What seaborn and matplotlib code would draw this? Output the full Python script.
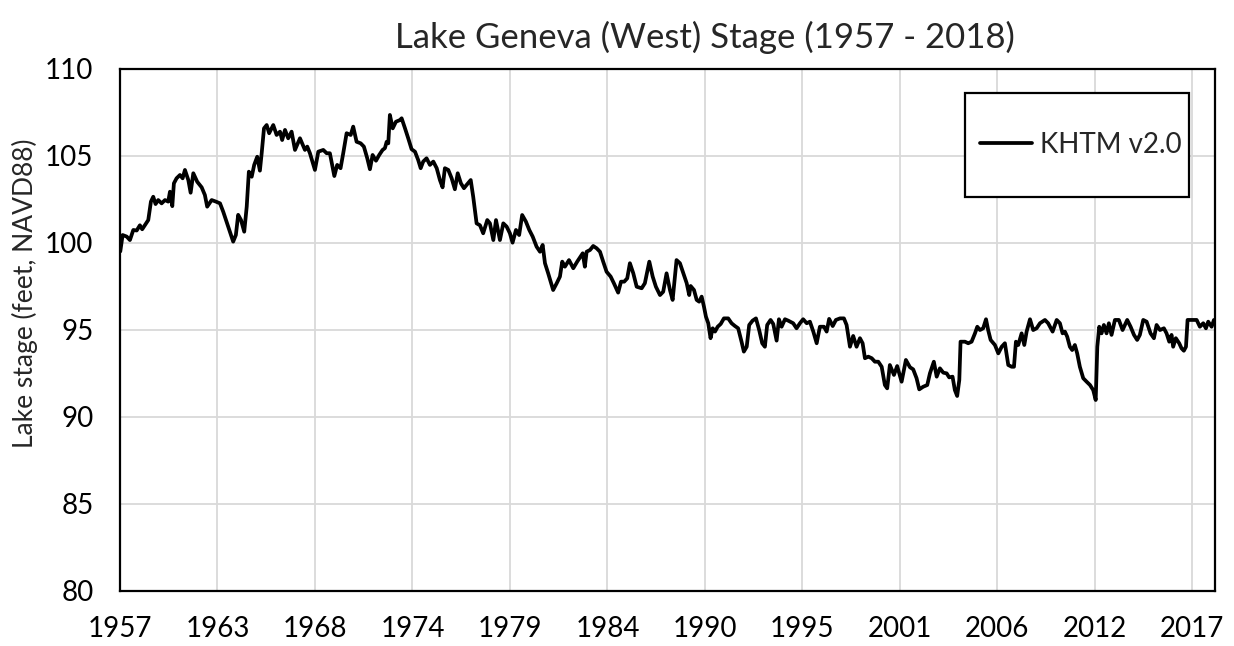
import matplotlib
matplotlib.use("Agg")
import matplotlib.pyplot as plt
import matplotlib.patches as patches
import seaborn as sns

# lake stage (decimal year, feet NAVD88)
year = [
    1957.62, 1957.75, 1957.98, 1958.16, 1958.35, 1958.54, 1958.72, 1958.85, 1959.00, 1959.19,
    1959.34, 1959.47, 1959.60, 1959.75, 1959.94, 1960.13, 1960.31, 1960.41, 1960.54, 1960.63,
    1960.78, 1960.97, 1961.12, 1961.25, 1961.44, 1961.57, 1961.72, 1961.94, 1962.19, 1962.37,
    1962.50, 1962.75, 1962.99, 1963.22, 1963.40, 1963.59, 1963.78, 1963.96, 1964.11, 1964.24,
    1964.40, 1964.58, 1964.72, 1964.84, 1965.00, 1965.14, 1965.31, 1965.46, 1965.56, 1965.69,
    1965.84, 1965.98, 1966.21, 1966.40, 1966.59, 1966.71, 1966.87, 1967.05, 1967.24, 1967.43,
    1967.71, 1967.99, 1968.12, 1968.27, 1968.55, 1968.74, 1969.02, 1969.21, 1969.39, 1969.64,
    1969.80, 1969.99, 1970.14, 1970.33, 1970.56, 1970.70, 1970.89, 1971.12, 1971.30, 1971.49,
    1971.64, 1971.79, 1971.98, 1972.16, 1972.35, 1972.48, 1972.58, 1972.67, 1972.76, 1972.92,
    1973.10, 1973.33, 1973.42, 1973.61, 1973.79, 1973.98, 1974.17, 1974.35, 1974.49, 1974.63,
    1974.82, 1975.01, 1975.20, 1975.39, 1975.57, 1975.72, 1975.85, 1976.04, 1976.23, 1976.41,
    1976.57, 1976.75, 1976.92, 1977.07, 1977.30, 1977.44, 1977.63, 1977.82, 1978.00, 1978.23,
    1978.38, 1978.57, 1978.72, 1978.94, 1979.13, 1979.32, 1979.50, 1979.65, 1979.84, 1980.02,
    1980.19, 1980.40, 1980.59, 1980.78, 1981.00, 1981.19, 1981.34, 1981.47, 1981.65, 1981.93,
    1982.13, 1982.31, 1982.44, 1982.59, 1982.82, 1983.06, 1983.28, 1983.47, 1983.59, 1983.71,
    1983.81, 1984.00, 1984.18, 1984.37, 1984.56, 1984.74, 1984.93, 1985.16, 1985.34, 1985.58,
    1985.74, 1985.92, 1986.09, 1986.24, 1986.43, 1986.62, 1986.90, 1987.08, 1987.33, 1987.52,
    1987.70, 1987.93, 1988.11, 1988.30, 1988.49, 1988.64, 1988.86, 1989.05, 1989.24, 1989.43,
    1989.57, 1989.65, 1989.84, 1989.99, 1990.13, 1990.27, 1990.40, 1990.51, 1990.64, 1990.77,
    1990.89, 1991.02, 1991.17, 1991.34, 1991.52, 1991.76, 1991.95, 1992.14, 1992.32, 1992.51,
    1992.64, 1992.80, 1992.94, 1993.13, 1993.32, 1993.50, 1993.67, 1993.82, 1993.95, 1994.14,
    1994.29, 1994.48, 1994.61, 1994.76, 1994.95, 1995.13, 1995.41, 1995.60, 1995.79, 1995.97,
    1996.17, 1996.35, 1996.54, 1996.73, 1996.91, 1997.14, 1997.29, 1997.43, 1997.63, 1997.81,
    1998.04, 1998.26, 1998.41, 1998.60, 1998.78, 1998.97, 1999.16, 1999.31, 1999.44, 1999.63,
    1999.82, 2000.00, 2000.19, 2000.38, 2000.56, 2000.69, 2000.84, 2001.07, 2001.25, 2001.50,
    2001.74, 2001.97, 2002.15, 2002.34, 2002.49, 2002.71, 2002.94, 2003.09, 2003.31, 2003.47,
    2003.65, 2003.84, 2004.03, 2004.17, 2004.36, 2004.49, 2004.62, 2004.74, 2004.81, 2005.06,
    2005.24, 2005.43, 2005.62, 2005.75, 2005.90, 2006.08, 2006.24, 2006.36, 2006.50, 2006.74,
    2006.93, 2007.12, 2007.30, 2007.49, 2007.68, 2007.81, 2007.92, 2008.05, 2008.24, 2008.39,
    2008.52, 2008.71, 2008.89, 2009.08, 2009.27, 2009.55, 2009.73, 2009.98, 2010.21, 2010.39,
    2010.54, 2010.67, 2010.80, 2010.95, 2011.08, 2011.23, 2011.36, 2011.51, 2011.70, 2011.89,
    2012.08, 2012.26, 2012.40, 2012.49, 2012.60, 2012.73, 2012.86, 2013.01, 2013.14, 2013.29,
    2013.48, 2013.70, 2013.91, 2014.17, 2014.36, 2014.55, 2014.73, 2014.88, 2015.07, 2015.26,
    2015.48, 2015.67, 2015.82, 2016.01, 2016.23, 2016.38, 2016.53, 2016.66, 2016.75, 2016.90,
    2017.09, 2017.22, 2017.35, 2017.47, 2017.56, 2017.79, 2018.07, 2018.25, 2018.44, 2018.59,
    2018.72, 2018.91, 2019.04,
]
stage = [
    99.50, 100.44, 100.35, 100.15, 100.73, 100.70, 101.00, 100.77, 101.00, 101.30,
    102.36, 102.64, 102.22, 102.45, 102.26, 102.45, 102.36, 102.93, 102.10, 103.41,
    103.70, 103.89, 103.70, 104.18, 103.60, 102.87, 103.99, 103.50, 103.18, 102.74,
    102.07, 102.45, 102.36, 102.26, 101.78, 101.20, 100.63, 100.06, 100.44, 101.60,
    101.30, 100.63, 102.07, 104.08, 103.79, 104.47, 104.94, 104.14, 105.14, 106.57,
    106.76, 106.29, 106.76, 106.19, 106.38, 105.90, 106.48, 106.00, 106.38, 105.33,
    106.00, 105.33, 105.52, 105.14, 104.18, 105.23, 105.33, 105.14, 105.14, 103.83,
    104.47, 104.28, 105.14, 106.29, 106.19, 106.67, 105.80, 105.71, 105.52, 104.85,
    104.22, 105.04, 104.71, 105.04, 105.33, 105.43, 105.80, 105.71, 107.34, 106.57,
    106.95, 107.05, 107.15, 106.57, 106.00, 105.37, 105.23, 104.75, 104.28, 104.66,
    104.85, 104.47, 104.66, 104.28, 103.60, 103.18, 104.28, 104.18, 103.70, 103.07,
    103.99, 103.41, 103.13, 103.32, 103.60, 102.64, 101.11, 101.00, 100.54, 101.30,
    101.11, 100.15, 101.30, 100.15, 101.11, 100.92, 100.54, 100.00, 100.73, 100.44,
    101.59, 101.21, 100.73, 100.35, 99.77, 99.48, 99.87, 98.82, 98.24, 97.28,
    97.67, 98.05, 98.91, 98.62, 99.00, 98.53, 98.91, 99.20, 99.39, 98.62,
    99.48, 99.58, 99.81, 99.68, 99.48, 98.91, 98.33, 98.05, 97.67, 97.13,
    97.76, 97.76, 97.95, 98.82, 98.24, 97.47, 97.38, 97.67, 98.91, 98.05,
    97.47, 96.99, 97.18, 98.24, 97.28, 96.71, 99.00, 98.82, 98.24, 97.67,
    96.99, 97.51, 97.28, 96.71, 96.61, 96.90, 96.32, 95.75, 95.37, 94.51,
    95.08, 94.89, 95.17, 95.33, 95.65, 95.65, 95.37, 95.21, 95.08, 94.31,
    93.74, 94.02, 95.27, 95.52, 95.65, 94.98, 94.22, 94.02, 95.27, 95.56,
    95.33, 94.37, 95.60, 95.17, 95.60, 95.52, 95.37, 95.08, 95.37, 95.60,
    95.37, 95.46, 94.89, 94.22, 95.17, 95.17, 94.89, 95.62, 95.21, 95.56,
    95.65, 95.65, 95.27, 94.02, 94.64, 94.02, 94.51, 94.22, 93.36, 93.45,
    93.36, 93.16, 93.16, 92.87, 91.82, 91.63, 92.97, 92.40, 92.91, 92.01,
    93.26, 92.84, 92.72, 92.21, 91.57, 91.72, 91.82, 92.49, 93.16, 92.30,
    92.78, 92.53, 92.49, 92.26, 92.30, 91.53, 91.19, 92.11, 94.31, 94.31,
    94.22, 94.31, 94.79, 95.17, 94.98, 95.08, 95.60, 94.98, 94.41, 94.12,
    93.64, 94.02, 94.22, 92.97, 92.87, 92.87, 94.31, 94.12, 94.79, 94.12,
    94.89, 95.60, 94.98, 95.08, 95.37, 95.56, 95.37, 94.89, 95.56, 95.37,
    94.79, 94.89, 94.60, 94.02, 93.83, 94.12, 93.64, 92.87, 92.21, 92.01,
    91.82, 91.53, 90.96, 94.02, 95.17, 94.79, 95.27, 94.79, 95.37, 94.70,
    95.56, 95.56, 94.98, 95.56, 95.17, 94.70, 94.41, 94.70, 95.56, 95.46,
    94.79, 94.51, 95.27, 94.98, 95.08, 94.79, 94.31, 94.70, 94.02, 94.51,
    94.22, 93.93, 93.79, 94.02, 95.56, 95.56, 95.56, 95.17, 95.37, 95.08,
    95.46, 95.17, 95.56,
]
series_name = "KHTM v2.0"
x_tick_labels = ["1957", "1963", "1968", "1974", "1979", "1984",
                 "1990", "1995", "2001", "2006", "2012", "2017"]
y_ticks = [80, 85, 90, 95, 100, 105, 110]

sns.set_style("white")
plt.rcParams["font.family"] = ["Lato", "DejaVu Sans"]

fig = plt.figure(figsize=(12.34, 6.46), dpi=100)
ax = fig.add_axes([0.0972, 0.0856, 0.8874, 0.8081])

sns.lineplot(x=year, y=stage, color="black", linewidth=2.7, label=series_name, ax=ax)

# excel date axis: major unit of 2000 days starting mid 1957
x_start = 1957.6
step = 2000 / 365.25
ax.set_xticks([x_start + k * step for k in range(len(x_tick_labels))])
ax.set_xticklabels(x_tick_labels)
ax.set_xlim(x_start, 2019.1)
ax.set_yticks(y_ticks)
ax.set_ylim(80, 110)

ax.grid(True, color="#d9d9d9", linewidth=1.3)
ax.set_axisbelow(True)
for sp in ax.spines.values():
    sp.set_visible(True)
    sp.set_color("black")
    sp.set_linewidth(1.6)
ax.tick_params(axis="both", length=0, labelsize=20, colors="black")
ax.tick_params(axis="y", pad=19)
ax.tick_params(axis="x", pad=18)
ax.set_xlabel("")
ax.set_ylabel("")

fig.text(25 / 1234, 1 - 293 / 646, "Lake stage (feet, NAVD88)", rotation=90,
         ha="center", va="center", fontsize=19)
fig.text(705 / 1234, 1 - 37 / 646, "Lake Geneva (West) Stage (1957 - 2018)",
         ha="center", va="center", fontsize=25)

# legend box
box = patches.Rectangle((0.7717, 0.7548), 0.2046, 0.1992, transform=ax.transAxes,
                        facecolor="white", edgecolor="black", linewidth=1.6, zorder=4)
ax.add_patch(box)
leg = ax.legend(loc="center", bbox_to_anchor=(0.8776, 0.8538), frameon=False,
                fontsize=20, handlelength=1.85, handletextpad=0.3)
leg.set_zorder(6)

fig.savefig("out.png", dpi=100)
